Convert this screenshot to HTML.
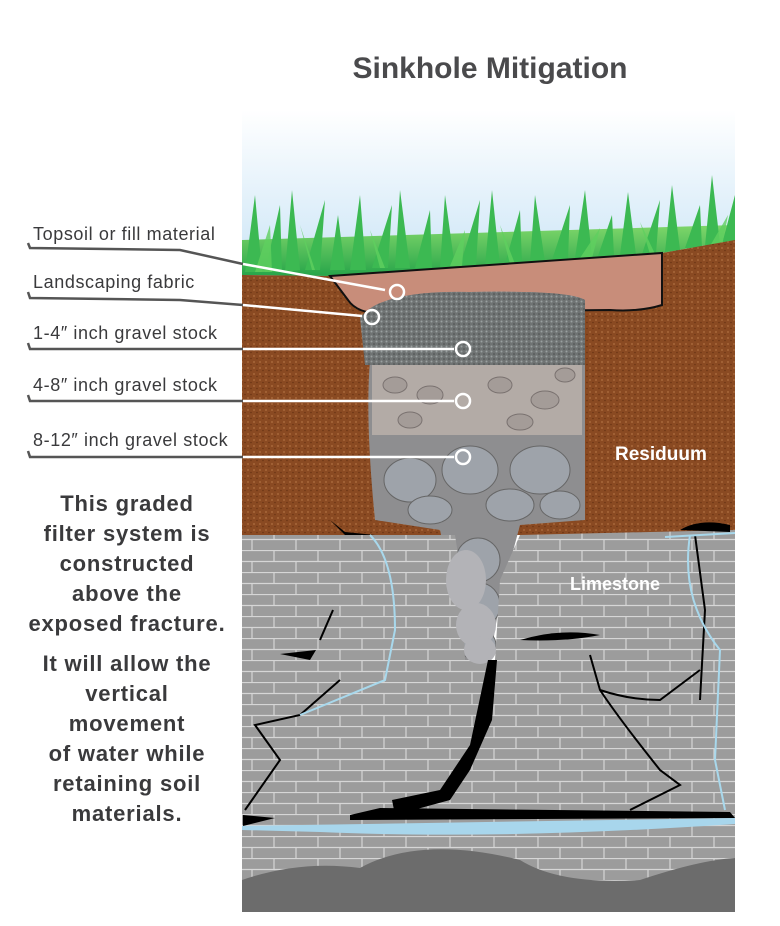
<!DOCTYPE html>
<html><head><meta charset="utf-8"><style>
body{margin:0;background:#fff;width:780px;height:921px;overflow:hidden;font-family:"Liberation Sans",sans-serif}
</style></head><body>
<svg width="780" height="921" viewBox="0 0 780 921" xmlns="http://www.w3.org/2000/svg">
<defs>
<linearGradient id="sky" x1="0" y1="0" x2="0" y2="1"><stop offset="0" stop-color="#fff"/><stop offset="1" stop-color="#c9e4f6"/></linearGradient>
<linearGradient id="grass" x1="0" y1="0" x2="0" y2="1"><stop offset="0" stop-color="#7fd66a"/><stop offset="1" stop-color="#27a54a"/></linearGradient>
<pattern id="brick" width="44" height="22" patternUnits="userSpaceOnUse">
<rect width="44" height="22" fill="#9c9c9c"/>
<path d="M0 0.5H44M0 11.5H44M10 0V11M32 11V22" stroke="#d6d6d6" stroke-width="1.2"/>
</pattern>
<pattern id="dirt" width="6" height="6" patternUnits="userSpaceOnUse">
<rect width="6" height="6" fill="#8a4a22"/><circle cx="2" cy="2" r="1" fill="#a8673a"/><circle cx="5" cy="4.5" r="0.8" fill="#6a3414"/>
</pattern>
<pattern id="grav" width="5" height="5" patternUnits="userSpaceOnUse">
<rect width="5" height="5" fill="#6f7373"/><circle cx="1.5" cy="1.5" r="1" fill="#9aa0a0"/><circle cx="4" cy="4" r="0.8" fill="#4a4d4d"/>
</pattern>
</defs>
<text x="490" y="78" text-anchor="middle" font-size="30" font-weight="bold" fill="#4a4a4c">Sinkhole Mitigation</text>
<rect x="242" y="110" width="493" height="170" fill="url(#sky)"/>
<!-- grass -->
<path d="M242 275 L242 240 L735 225 L735 240 L662 253 L480 268 L330 276 Z" fill="url(#grass)"/>
<g fill="#3cb952">
<path d="M245 272 L255 195 L262 272Z M265 272 L280 205 L282 272Z M285 272 L292 190 L300 270Z M305 270 L325 200 L320 270Z M330 270 L338 215 L345 270Z M350 270 L360 195 L366 270Z M372 268 L392 205 L388 268Z M395 268 L400 190 L410 268Z M415 268 L430 210 L432 268Z M440 268 L445 195 L455 268Z M460 266 L480 200 L476 266Z M485 266 L492 190 L500 266Z M505 264 L520 210 L522 264Z M530 262 L535 195 L545 262Z M552 260 L570 205 L568 260Z M575 258 L585 190 L592 258Z M598 256 L612 215 L614 256Z M620 255 L628 192 L636 255Z M642 254 L660 200 L656 254Z M665 252 L672 185 L680 250Z M685 248 L700 205 L702 248Z M705 246 L712 175 L720 244Z M722 244 L735 195 L735 244Z"/>
</g>
<g fill="#5fcf5f" opacity="0.8">
<path d="M255 272 L270 225 L272 272Z M315 270 L300 225 L312 270Z M380 268 L370 230 L385 268Z M450 266 L465 230 L462 266Z M510 264 L500 225 L515 264Z M580 258 L600 228 L592 258Z M650 254 L640 222 L655 254Z M710 246 L728 215 L722 246Z"/>
</g>
<!-- residuum -->
<path d="M242 275 L330 276 L480 268 L662 253 L735 240 L735 535 L242 535 Z" fill="url(#dirt)"/>
<!-- topsoil -->
<path d="M330 276 L662 253 L662 305 Q640 312 610 310 L400 312 Q360 318 348 300 Z" fill="#c88d7a" stroke="#111" stroke-width="2"/>
<!-- gravel column -->
<path d="M360 318 Q380 290 470 292 Q570 290 585 300 L585 520 L520 525 L500 600 L490 660 L460 660 L455 600 L440 530 L375 520 Q365 420 370 360 Z" fill="#8e8e90"/>
<path d="M360 318 Q380 290 470 292 Q570 290 585 300 L585 365 L365 365 Z" fill="url(#grav)"/>
<rect x="372" y="365" width="210" height="70" fill="#b3aba6"/>
<g fill="#a49c98" stroke="#7a7270" stroke-width="1">
<ellipse cx="395" cy="385" rx="12" ry="8"/><ellipse cx="430" cy="395" rx="13" ry="9"/><ellipse cx="500" cy="385" rx="12" ry="8"/><ellipse cx="545" cy="400" rx="14" ry="9"/><ellipse cx="410" cy="420" rx="12" ry="8"/><ellipse cx="520" cy="422" rx="13" ry="8"/><ellipse cx="565" cy="375" rx="10" ry="7"/>
</g>
<g fill="#9ea3aa" stroke="#666" stroke-width="1">
<ellipse cx="410" cy="480" rx="26" ry="22"/><ellipse cx="470" cy="470" rx="28" ry="24"/><ellipse cx="540" cy="470" rx="30" ry="24"/>
<ellipse cx="430" cy="510" rx="22" ry="14"/><ellipse cx="510" cy="505" rx="24" ry="16"/><ellipse cx="560" cy="505" rx="20" ry="14"/>
<ellipse cx="478" cy="560" rx="22" ry="22"/><ellipse cx="480" cy="605" rx="20" ry="22"/><ellipse cx="478" cy="645" rx="18" ry="16"/>
</g>
<!-- limestone -->
<path d="M242 535 L455 535 L462 580 L465 660 L495 660 L500 580 L520 535 L735 530 L735 912 L242 912 Z" fill="url(#brick)"/>
<g fill="#b3b3b7"><ellipse cx="466" cy="580" rx="20" ry="30"/><ellipse cx="476" cy="625" rx="20" ry="22"/><ellipse cx="480" cy="650" rx="16" ry="14"/></g>
<!-- cracks -->
<g fill="#000">
<path d="M488 660 L497 660 L492 720 L470 770 L450 800 L395 815 L392 800 L440 790 L470 745 Z"/>
<path d="M350 815 L380 808 L730 812 L735 818 L350 820 Z"/>
<path d="M520 640 Q560 628 600 635 Q565 642 520 640 Z"/>
<path d="M280 654 L316 650 L310 660 Z"/>
<path d="M243 815 L275 818 L243 826 Z"/>
<path d="M680 530 Q700 518 730 525 L730 532 Z"/>
<path d="M330 520 L345 535 L375 535 L345 532 Z"/>
</g>
<g stroke="#000" stroke-width="2" fill="none">
<path d="M590 655 L600 690 Q620 720 660 770 L680 785 L630 810"/>
<path d="M600 690 Q630 700 660 700 L700 670"/>
<path d="M245 810 L280 760 L255 725 L300 715 L340 680"/>
<path d="M333 610 L320 640"/>
<path d="M695 535 L705 610 L700 700"/>
</g>
<g stroke="#a8d8ec" stroke-width="2" fill="none">
<path d="M370 535 Q395 560 395 630 L385 680 L300 715"/>
<path d="M690 535 Q680 600 720 650 L715 760 L725 810"/>
<path d="M665 537 L735 533"/>
</g>
<path d="M242 826 L735 818 L735 824 Q500 840 320 832 L242 830 Z" fill="#a8d6ec"/>
<!-- bottom gravel -->
<path d="M242 880 Q300 860 360 868 Q420 835 520 860 Q560 885 640 880 Q700 860 735 858 L735 912 L242 912 Z" fill="#6c6c6c"/>
<!-- labels -->
<text x="615" y="460" font-size="19" font-weight="bold" fill="#fff">Residuum</text>
<text x="570" y="590" font-size="18" font-weight="bold" fill="#fff">Limestone</text>
<g font-size="18" fill="#3a3a3c" letter-spacing="0.6">
<text x="33" y="240">Topsoil or fill material</text>
<text x="33" y="288">Landscaping fabric</text>
<text x="33" y="339">1-4″ inch gravel stock</text>
<text x="33" y="391">4-8″ inch gravel stock</text>
<text x="33" y="446">8-12″ inch gravel stock</text>
</g>
<g fill="none" stroke-width="2.5">
<path d="M28 243 L30 248 L180 250 L243 264" stroke="#555"/><path d="M243 264 L385 290" stroke="#fff"/>
<path d="M28 292 L30 298 L180 300 L243 305" stroke="#555"/><path d="M243 305 L362 316" stroke="#fff"/>
<path d="M28 343 L30 349 L243 349" stroke="#555"/><path d="M243 349 L454 349" stroke="#fff"/>
<path d="M28 395 L30 401 L243 401" stroke="#555"/><path d="M243 401 L454 401" stroke="#fff"/>
<path d="M28 451 L30 457 L243 457" stroke="#555"/><path d="M243 457 L454 457" stroke="#fff"/>
</g>
<g fill="none" stroke="#fff" stroke-width="2.5">
<circle cx="397" cy="292" r="7"/><circle cx="372" cy="317" r="7"/><circle cx="463" cy="349" r="7"/><circle cx="463" cy="401" r="7"/><circle cx="463" cy="457" r="7"/>
</g>
<g font-size="22" font-weight="bold" fill="#3a3a3c" text-anchor="middle" letter-spacing="0.8">
<text x="127" y="511">This graded</text>
<text x="127" y="541">filter system is</text>
<text x="127" y="571">constructed</text>
<text x="127" y="601">above the</text>
<text x="127" y="631">exposed fracture.</text>
<text x="127" y="671">It will allow the</text>
<text x="127" y="701">vertical</text>
<text x="127" y="731">movement</text>
<text x="127" y="761">of water while</text>
<text x="127" y="791">retaining soil</text>
<text x="127" y="821">materials.</text>
</g>
</svg>
</body></html>
